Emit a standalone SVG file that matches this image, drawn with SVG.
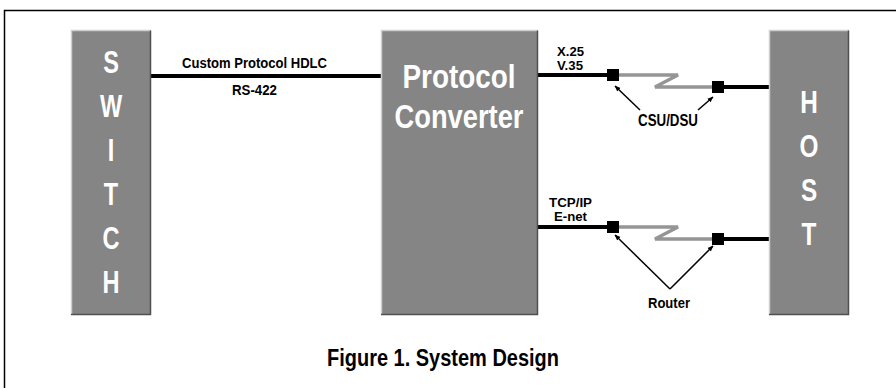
<svg xmlns="http://www.w3.org/2000/svg" width="896" height="388" viewBox="0 0 896 388">
  <style>
    .t { font-family: "Liberation Sans", Arial, sans-serif; font-weight: bold; }
    .lbl { fill: #000; }
    .big { fill: #fff; text-anchor: middle; }
    .box { fill: #858585; }
    .hi { stroke: #cfcfcf; stroke-width: 1.5; fill: none; }
    .lo { stroke: #505050; stroke-width: 1.5; fill: none; }
    .wire { stroke: #000; stroke-width: 4; fill: none; }
    .link { stroke: #959595; stroke-width: 3.5; fill: none; stroke-linejoin: miter; }
    .ptr { stroke: #000; stroke-width: 1.5; fill: none; marker-end: url(#ah); }
    .dev { fill: #000; }
  </style>
  <defs>
    <marker id="ah" viewBox="0 0 10 10" refX="9" refY="5" markerWidth="6" markerHeight="6" orient="auto" markerUnits="userSpaceOnUse">
      <path d="M0,1 L10,5 L0,9 Z" fill="#000"/>
    </marker>
  </defs>

  <rect width="896" height="388" fill="#fff"/>
  <!-- page frame -->
  <path d="M4.5,388 V10.5 H896" stroke="#000" stroke-width="1.5" fill="none"/>

  <!-- connectors -->
  <g id="connectors">
    <line class="wire" x1="151" y1="76" x2="381" y2="76"/>
    <!-- X.25 / V.35 circuit -->
    <line class="wire" x1="538" y1="75" x2="608" y2="75"/>
    <path class="link" d="M618,75 H678 L655,87 H713"/>
    <line class="wire" x1="723" y1="87" x2="769" y2="87"/>
    <!-- TCP/IP circuit -->
    <line class="wire" x1="538" y1="227" x2="608" y2="227"/>
    <path class="link" d="M618,227 H678 L655,239 H713"/>
    <line class="wire" x1="723" y1="239" x2="769" y2="239"/>
    <!-- pointers -->
    <line class="ptr" x1="640" y1="110" x2="615" y2="86"/>
    <line class="ptr" x1="698" y1="110" x2="713" y2="97"/>
    <line class="ptr" x1="670" y1="289" x2="615" y2="235"/>
    <line class="ptr" x1="670" y1="289" x2="713" y2="246"/>
  </g>

  <g id="switch">
    <rect class="box" x="71" y="30" width="80" height="285"/>
    <path class="hi" d="M71.5,315 V30.5 H151"/>
    <path class="lo" d="M150.5,30.5 V314.5 H71"/>
    <g transform="translate(111,0) scale(0.76,1)" font-size="31">
      <text class="t big" x="0" y="73">S</text>
      <text class="t big" x="0" y="117">W</text>
      <text class="t big" x="0" y="161">I</text>
      <text class="t big" x="0" y="205">T</text>
      <text class="t big" x="0" y="249">C</text>
      <text class="t big" x="0" y="293">H</text>
    </g>
  </g>

  <g id="converter">
    <rect class="box" x="381" y="30" width="157" height="285"/>
    <path class="hi" d="M381.5,315 V30.5 H538"/>
    <path class="lo" d="M537.5,30.5 V314.5 H381"/>
    <text class="t big" x="459" y="88" font-size="34" textLength="113" lengthAdjust="spacingAndGlyphs">Protocol</text>
    <text class="t big" x="459" y="128" font-size="34" textLength="129" lengthAdjust="spacingAndGlyphs">Converter</text>
  </g>

  <g id="host">
    <rect class="box" x="769" y="30" width="80" height="285"/>
    <path class="hi" d="M769.5,315 V30.5 H849"/>
    <path class="lo" d="M848.5,30.5 V314.5 H769"/>
    <g transform="translate(809,0) scale(0.76,1)" font-size="32">
      <text class="t big" x="0" y="113">H</text>
      <text class="t big" x="0" y="157">O</text>
      <text class="t big" x="0" y="201">S</text>
      <text class="t big" x="0" y="245">T</text>
    </g>
  </g>

  <g id="csu1"><rect class="dev" x="607" y="69" width="12" height="12"/></g>
  <g id="csu2"><rect class="dev" x="712" y="81" width="12" height="12"/></g>
  <g id="router1"><rect class="dev" x="607" y="221" width="12" height="12"/></g>
  <g id="router2"><rect class="dev" x="712" y="233" width="12" height="12"/></g>

  <g id="labels">
    <text class="t lbl" x="182" y="68" font-size="14.5" textLength="145" lengthAdjust="spacingAndGlyphs">Custom Protocol HDLC</text>
    <text class="t lbl" x="232" y="95" font-size="14.5" textLength="45" lengthAdjust="spacingAndGlyphs">RS-422</text>
    <text class="t lbl" x="557" y="56" font-size="12.5" textLength="27" lengthAdjust="spacingAndGlyphs">X.25</text>
    <text class="t lbl" x="557" y="70" font-size="12.5" textLength="26" lengthAdjust="spacingAndGlyphs">V.35</text>
    <text class="t lbl" x="638" y="126" font-size="16" textLength="60" lengthAdjust="spacingAndGlyphs">CSU/DSU</text>
    <text class="t lbl" x="549" y="207" font-size="12.5" textLength="43" lengthAdjust="spacingAndGlyphs">TCP/IP</text>
    <text class="t lbl" x="554" y="221" font-size="12.5" textLength="33" lengthAdjust="spacingAndGlyphs">E-net</text>
    <text class="t lbl" x="648" y="308" font-size="15" textLength="42" lengthAdjust="spacingAndGlyphs">Router</text>
    <text class="t lbl" x="327" y="366" font-size="23" textLength="232" lengthAdjust="spacingAndGlyphs">Figure 1. System Design</text>
  </g>
</svg>
